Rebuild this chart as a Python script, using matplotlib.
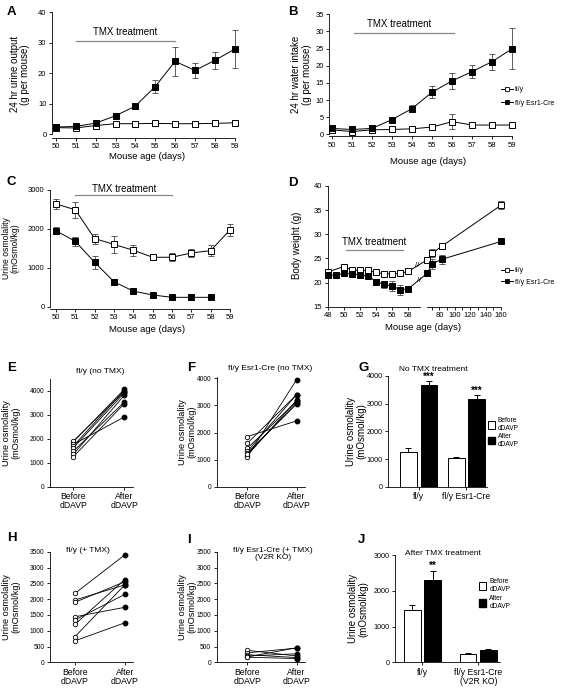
import numpy as np
import matplotlib
matplotlib.use('Agg')
import matplotlib.pyplot as plt
import matplotlib.transforms as mtransforms
from matplotlib.lines import Line2D
from matplotlib.patches import Patch

# ---- data ----
days = [50, 51, 52, 53, 54, 55, 56, 57, 58, 59]

urine_flox = [2.1, 2.0, 2.8, 3.4, 3.4, 3.5, 3.4, 3.4, 3.5, 3.7]
urine_flox_err = [0.3, 0.3, 0.3, 0.3, 0.3, 0.3, 0.3, 0.3, 0.3, 0.3]
urine_cre = [2.3, 2.5, 3.6, 6.0, 9.2, 15.6, 23.9, 20.9, 24.2, 27.9]
urine_cre_err = [0.3, 0.3, 0.4, 0.5, 0.6, 2.0, 4.8, 2.6, 2.7, 6.3]

water_flox = [1.3, 0.8, 1.3, 1.4, 1.6, 2.1, 3.7, 2.7, 2.7, 2.7]
water_flox_err = [0.8, 0.6, 0.5, 0.5, 0.5, 0.5, 2.3, 0.4, 0.4, 0.4]
water_cre = [1.7, 1.4, 1.7, 4.3, 7.5, 12.3, 15.6, 18.3, 21.2, 25.0]
water_cre_err = [0.4, 0.3, 0.3, 0.5, 0.9, 1.8, 2.4, 1.9, 2.3, 5.9]

osm_flox = [2640, 2490, 1750, 1600, 1450, 1270, 1270, 1380, 1440, 1970]
osm_flox_err = [140, 200, 130, 220, 140, 80, 100, 110, 150, 150]
osm_days_cre = [50, 51, 52, 53, 54, 55, 56, 57, 58]
osm_cre = [1950, 1680, 1140, 640, 400, 300, 240, 240, 240]
osm_cre_err = [90, 110, 160, 80, 40, 30, 20, 20, 20]

bw_days_flox = [48, 50, 51, 52, 53, 54, 55, 56, 57, 58, 64, 71, 83, 160]
bw_flox = [22.2, 23.3, 22.6, 22.5, 22.5, 22.1, 21.8, 21.8, 21.9, 22.3, 24.7, 26.1, 27.5, 36.0]
bw_flox_err = [0.3, 0.3, 0.3, 0.3, 0.3, 0.3, 0.4, 0.4, 0.4, 0.3, 0.4, 0.8, 0.6, 0.8]
bw_days_cre = [48, 49, 50, 51, 52, 53, 54, 55, 56, 57, 58, 64, 71, 83, 160]
bw_cre = [21.6, 21.5, 21.9, 21.8, 21.6, 21.4, 20.2, 19.6, 19.3, 18.5, 18.7, 21.9, 23.9, 24.8, 28.5]
bw_cre_err = [0.3, 0.3, 0.4, 0.4, 0.4, 0.5, 0.6, 0.8, 1.0, 1.0, 0.4, 0.6, 1.0, 1.0, 0.5]

pair_labels = ['Before\ndDAVP', 'After\ndDAVP']
before_E = [1870, 1900, 1760, 1700, 1620, 1480, 1350, 1250]
after_E = [4050, 3950, 2900, 4000, 3900, 3520, 3800, 3450]
before_F = [1850, 1600, 1420, 1300, 1250, 1150, 1100, 1200]
after_F = [2430, 3400, 3150, 3400, 3050, 3200, 3950, 3100]
before_H = [2180, 1970, 1900, 1440, 1340, 1200, 810, 680]
after_H = [3400, 2450, 2550, 1740, 2150, 2620, 2450, 1250]
before_I = [380, 300, 240, 170, 200, 160]
after_I = [200, 450, 150, 460, 270, 120]

groups_G = ['fl/y', 'fl/y Esr1-Cre']
before_G = [1270, 1050]
before_G_err = [120, 35]
after_G = [3680, 3160]
after_G_err = [140, 150]

groups_J = ['fl/y', 'fl/y Esr1-Cre\n(V2R KO)']
before_J = [1450, 220]
before_J_err = [160, 30]
after_J = [2300, 350]
after_J_err = [240, 30]

# ---- style ----
plt.rcParams['font.family'] = ['Liberation Sans', 'DejaVu Sans']
plt.rcParams['axes.linewidth'] = 0.6
for a in ['xtick', 'ytick']:
    plt.rcParams[a + '.major.width'] = 0.6
    plt.rcParams[a + '.major.size'] = 2.5
    plt.rcParams[a + '.minor.width'] = 0.6
    plt.rcParams[a + '.minor.size'] = 1.8
    plt.rcParams[a + '.major.pad'] = 1.5
plt.rcParams['lines.linewidth'] = 0.7

W, H = 567, 691
fig = plt.figure(figsize=(W / 100, H / 100), dpi=100)


def box(l, t, r, b):
    ax = fig.add_axes([l / W, 1 - b / H, (r - l) / W, (b - t) / H])
    ax.spines[['top', 'right']].set_visible(False)
    return ax


def ftext(x, y, s, **kw):
    fig.text(x / W, 1 - y / H, s, **kw)


def ylab(ax, s, x, size=7):
    ax.set_ylabel(s, fontsize=size, linespacing=1.05)
    tr = mtransforms.blended_transform_factory(fig.transFigure, ax.transAxes)
    ax.yaxis.set_label_coords(x / W, 0.5, transform=tr)


def xlab(ax, s, x, y, size=6.8):
    ax.set_xlabel(s, fontsize=size)
    ax.xaxis.set_label_coords(x / W, 1 - y / H, transform=fig.transFigure)


def tmx(ax, x0, x1, y, ty, tx):
    ax.plot([x0, x1], [y, y], color='#888888', lw=0.9, clip_on=False)
    ax.text(tx, ty, 'TMX treatment', ha='center', va='bottom', fontsize=7)


def series(ax, x, y, err, filled, ms=4.8):
    ax.errorbar(x, y, yerr=err, fmt='none', ecolor='#444444', elinewidth=0.6,
                capsize=2.0, capthick=0.6, clip_on=False, zorder=2)
    ax.plot(x, y, color='k', lw=0.7, marker='s', ms=ms,
            mfc='k' if filled else 'white', mec='k', mew=0.7, clip_on=False, zorder=3)


sq_handles = [Line2D([], [], color='k', lw=0.7, marker='s', ms=3.5, mfc='white', mec='k', mew=0.6),
              Line2D([], [], color='k', lw=0.7, marker='s', ms=3.5, mfc='k', mec='k', mew=0.6)]
sq_labels = ['fl/y', 'fl/y Esr1-Cre']

# ---- A ----
ax = box(52, 10.8, 240.6, 137.7)
series(ax, days, urine_flox, urine_flox_err, False)
series(ax, days, urine_cre, urine_cre_err, True)
ax.set_xlim(49.8, 59.3)
ax.set_ylim(-1.2, 40.5)
ax.set_xticks(days)
ax.set_yticks([0, 10, 20, 30, 40])
ax.spines['bottom'].set_bounds(49.8, 59)
ax.spines['left'].set_bounds(0, 40)
ax.tick_params(labelsize=5.5)
tmx(ax, 51, 56, 30.6, 32.0, 53.5)
ylab(ax, '24 hr urine output\n(g per mouse)', 30)
xlab(ax, 'Mouse age (days)', 146.7, 151.7)

# ---- B ----
ax = box(329.3, 12.6, 516.3, 136)
series(ax, days, water_flox, water_flox_err, False)
series(ax, days, water_cre, water_cre_err, True)
ax.set_xlim(49.87, 59.2)
ax.set_ylim(-0.5, 35.5)
ax.set_xticks(days)
ax.set_yticks(np.arange(0, 36, 5))
ax.spines['bottom'].set_bounds(49.87, 59)
ax.spines['left'].set_bounds(0, 35)
ax.tick_params(labelsize=5.5)
tmx(ax, 51.1, 56.1, 29.6, 30.8, 53.35)
ylab(ax, '24 hr water intake\n(g per mouse)', 311.7)
xlab(ax, 'Mouse age (days)', 428.3, 156.7)
ax.legend(sq_handles, sq_labels, loc='upper left', bbox_to_anchor=(498 / W, 1 - 83 / H),
          bbox_transform=fig.transFigure, frameon=False, fontsize=5, handlelength=1.6,
          handletextpad=0.3, borderpad=0, labelspacing=0.9)

# ---- C ----
ax = box(50, 188, 233.8, 308.6)
series(ax, days, osm_flox, osm_flox_err, False, ms=4.4)
series(ax, osm_days_cre, osm_cre, osm_cre_err, True, ms=4.4)
ax.set_xlim(49.69, 59.2)
ax.set_ylim(-50, 3050)
ax.set_xticks(days)
ax.set_yticks([0, 1000, 2000, 3000])
ax.spines['bottom'].set_bounds(49.69, 59)
ax.spines['left'].set_bounds(0, 3000)
ax.tick_params(labelsize=5.5)
tmx(ax, 51, 56, 2870, 2890, 53.5)
ylab(ax, 'Urine osmolality\n(mOsmol/kg)', 20, 6.2)
xlab(ax, 'Mouse age (days)', 146.7, 325)

# ---- D (broken x axis) ----


def fwd(x):
    x = np.asarray(x, float)
    return np.where(x <= 59.5, x, 60.32 + (x - 64) * 0.0956)


def inv(y):
    y = np.asarray(y, float)
    return np.where(y <= 59.5, y, 64 + (y - 60.32) / 0.0956)


ax = box(327.7, 184.5, 501, 306.7)
ax.set_xscale('function', functions=(fwd, inv))
series(ax, bw_days_flox, bw_flox, bw_flox_err, False, ms=4.3)
series(ax, bw_days_cre, bw_cre, bw_cre_err, True, ms=4.3)
ax.set_xlim(48, 160)
ax.set_ylim(15, 40.3)
ax.set_xticks([48, 50, 52, 54, 56, 58, 80, 100, 120, 140, 160])
ax.set_xticks([70, 90, 110, 130, 150], minor=True)
ax.set_xticklabels(['48', '50', '52', '54', '56', '58', '80', '100', '120', '140', '160'])
ax.set_yticks([15, 20, 25, 30, 35, 40])
ax.spines['left'].set_bounds(15, 40)
ax.spines['bottom'].set_visible(False)
ax.plot([48, 59.5], [15, 15], color='k', lw=0.6, clip_on=False)
ax.plot([64, 160], [15, 15], color='k', lw=0.6, clip_on=False)
ax.tick_params(labelsize=5.5)
ax.text(59.05, 23.6, '//', ha='center', va='center', fontsize=5.5)
ax.text(59.35, 20.5, '//', ha='center', va='center', fontsize=5.5)
tmx(ax, 50.25, 57.4, 26.7, 27.4, 53.75)
ylab(ax, 'Body weight (g)', 301.7)
xlab(ax, 'Mouse age (days)', 423.3, 323.3)
ax.legend(sq_handles, sq_labels, loc='upper left', bbox_to_anchor=(498 / W, 1 - 264 / H),
          bbox_transform=fig.transFigure, frameon=False, fontsize=5, handlelength=1.6,
          handletextpad=0.3, borderpad=0, labelspacing=0.6)


# ---- paired panels ----
def paired(ax, before, after, ylim, yt):
    for b, a in zip(before, after):
        ax.plot([0, 1], [b, a], color='k', lw=0.6, zorder=2)
    ax.plot(np.zeros(len(before)), before, 'o', ms=3.2, mfc='white', mec='k', mew=0.6,
            zorder=3, clip_on=False)
    ax.plot(np.ones(len(after)), after, 'o', ms=3.2, mfc='k', mec='k', zorder=3, clip_on=False)
    ax.set_ylim(*ylim)
    ax.set_yticks(yt)
    ax.set_xticks([0, 1])
    ax.set_xticklabels(pair_labels, fontsize=6.2, linespacing=1.0)
    ax.tick_params(axis='y', labelsize=4.8)


ax = box(50, 379.1, 133.3, 486.7)
paired(ax, before_E, after_E, (0, 4480), [0, 1000, 2000, 3000, 4000])
ax.set_xlim(-0.46, 1.18)
ylab(ax, 'Urine osmolality\n(mOsmol/kg)', 20.7, 6.6)
ftext(100, 371.7, 'fl/y (no TMX)', ha='center', va='center', fontsize=6)

ax = box(216.7, 377, 305, 486.7)
paired(ax, before_F, after_F, (0, 4050), [0, 1000, 2000, 3000, 4000])
ax.set_xlim(-0.62, 1.17)
ylab(ax, 'Urine osmolality\n(mOsmol/kg)', 196.5, 6.6)
ftext(270, 368.3, 'fl/y Esr1-Cre (no TMX)', ha='center', va='center', fontsize=6)

ax = box(50, 551.7, 133.3, 662.3)
paired(ax, before_H, after_H, (0, 3500), np.arange(0, 3501, 500))
ax.set_xlim(-0.5, 1.17)
ylab(ax, 'Urine osmolality\n(mOsmol/kg)', 20.7, 6.6)
ftext(88.3, 550, 'fl/y (+ TMX)', ha='center', va='center', fontsize=6)

ax = box(216.7, 551.7, 305, 662.3)
paired(ax, before_I, after_I, (0, 3500), np.arange(0, 3501, 500))
ax.set_xlim(-0.62, 1.17)
ylab(ax, 'Urine osmolality\n(mOsmol/kg)', 196.5, 6.6)
ftext(273.3, 554, 'fl/y Esr1-Cre (+ TMX)\n(V2R KO)', ha='center', va='center', fontsize=6,
      linespacing=1.1)


# ---- bar panels ----
def bars(ax, groups, bef, bef_err, aft, aft_err, off, wid, stars, ylim, yt):
    x = np.arange(len(groups))
    ax.bar(x - off, bef, wid, color='white', edgecolor='k', lw=0.7,
           yerr=[np.zeros(len(bef)), bef_err], error_kw=dict(lw=0.7, capsize=2, capthick=0.7))
    ax.bar(x + off, aft, wid, color='k', edgecolor='k', lw=0.7,
           yerr=[np.zeros(len(aft)), aft_err], error_kw=dict(lw=0.7, capsize=2, capthick=0.7))
    for xi, a, e in zip(x, aft, aft_err):
        if stars:
            ax.text(xi + off, a + e - 20, stars, ha='center', va='bottom', fontsize=7,
                    fontweight='bold', clip_on=False)
    ax.set_xticks(x)
    ax.set_xticklabels(groups, fontsize=6.2, linespacing=1.0)
    ax.set_ylim(*ylim)
    ax.set_yticks(yt)
    ax.tick_params(axis='y', labelsize=5.2)
    leg_h = [Patch(facecolor='white', edgecolor='k', lw=0.7), Patch(facecolor='k', edgecolor='k')]
    return leg_h


ax = box(388.3, 376, 487, 486.7)
lh = bars(ax, groups_G, before_G, before_G_err, after_G, after_G_err, 0.215, 0.35, '***',
          (0, 4000), [0, 1000, 2000, 3000, 4000])
ax.set_xlim(-0.636, 1.43)
ylab(ax, 'Urine osmolality\n(mOsmol/kg)', 366, 7)
ftext(433, 369.3, 'No TMX treatment', ha='center', va='center', fontsize=6)
ax.legend(lh, ['Before\ndDAVP', 'After\ndDAVP'], loc='upper left', bbox_to_anchor=(485 / W, 1 - 414 / H),
          bbox_transform=fig.transFigure, frameon=False, fontsize=4.8, handlelength=1.0,
          handleheight=1.4, handletextpad=0.4, borderpad=0, labelspacing=0.05)

ax = box(395, 555, 500, 662.3)
lh = bars(ax, groups_J, before_J, before_J_err, after_J, after_J_err, 0.181, 0.296, None,
          (0, 3000), [0, 1000, 2000, 3000])
ax.text(0.181, after_J[0] + after_J_err[0] + 10, '**', ha='center', va='bottom', fontsize=7,
        fontweight='bold')
ax.set_xlim(-0.493, 1.39)
ylab(ax, 'Urine osmolality\n(mOsmol/kg)', 368, 7)
ftext(443.3, 553.3, 'After TMX treatment', ha='center', va='center', fontsize=6)
ax.legend(lh, ['Before\ndDAVP', 'After\ndDAVP'], loc='upper left', bbox_to_anchor=(476 / W, 1 - 575 / H),
          bbox_transform=fig.transFigure, frameon=False, fontsize=4.8, handlelength=1.0,
          handleheight=1.4, handletextpad=0.5, borderpad=0, labelspacing=0.3)

# ---- panel letters ----
for s, x, y in [('A', 6.7, 11.7), ('B', 288, 11.7), ('C', 6.7, 181.7), ('D', 288, 183),
                ('E', 6.7, 368.3), ('F', 186.7, 368.3), ('G', 358.3, 368.3),
                ('H', 6.7, 538.3), ('I', 186.7, 540), ('J', 358.3, 540)]:
    ftext(x, y, s, ha='left', va='center', fontsize=9.5, fontweight='bold')

fig.savefig('out.png', dpi=100)
